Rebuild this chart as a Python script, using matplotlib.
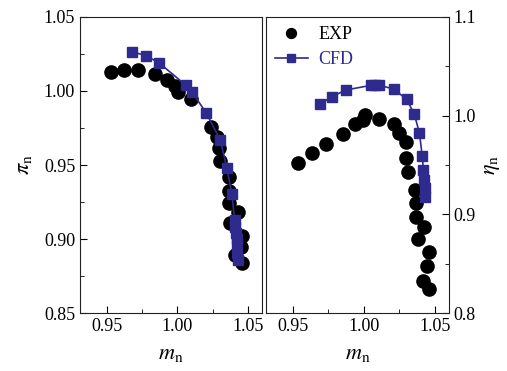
import matplotlib.pyplot as plt
from matplotlib.ticker import MultipleLocator

plt.rcParams['font.family'] = ['Liberation Serif', 'DejaVu Serif']
plt.rcParams['mathtext.fontset'] = 'stix'
plt.rcParams['font.size'] = 13

# pressure ratio panel
exp_m_pi = [0.9528, 0.9625, 0.9724, 0.9845, 0.9930, 0.9984, 1.0001, 1.0098, 1.0240, 1.0284,
            1.0294, 1.0303, 1.0365, 1.0367, 1.0367, 1.0433, 1.0372, 1.0460, 1.0450, 1.0405, 1.0455]
exp_pi = [1.0130, 1.0142, 1.0142, 1.0115, 1.0074, 1.0034, 0.9995, 0.9944, 0.9759, 0.9691,
          0.9613, 0.9527, 0.9420, 0.9324, 0.9245, 0.9180, 0.9110, 0.9020, 0.8948, 0.8892, 0.8836]
cfd_m_pi = [0.9677, 0.9777, 0.9869, 1.0058, 1.0105, 1.0204, 1.0304, 1.0351, 1.0387, 1.0405,
            1.0412, 1.0417, 1.0420, 1.0422, 1.0426, 1.0431]
cfd_pi = [1.0266, 1.0239, 1.0191, 1.0041, 0.9991, 0.9853, 0.9669, 0.9478, 0.9304, 0.9128,
          0.9080, 0.9038, 0.9000, 0.8970, 0.8903, 0.8858]

# efficiency panel
exp_m_eta = [0.9538, 0.9632, 0.9732, 0.9850, 0.9935, 0.9991, 1.0007, 1.0104, 1.0211, 1.0246,
             1.0296, 1.0294, 1.0310, 1.0362, 1.0364, 1.0369, 1.0427, 1.0383, 1.0458, 1.0444,
             1.0415, 1.0456]
exp_eta = [0.9518, 0.9625, 0.9710, 0.9811, 0.9913, 0.9956, 1.0007, 0.9967, 0.9916, 0.9822,
           0.9737, 0.9568, 0.9426, 0.9247, 0.9112, 0.8971, 0.8875, 0.8754, 0.8616, 0.8480,
           0.8328, 0.8244]
cfd_m_eta = [0.9690, 0.9775, 0.9873, 1.0052, 1.0080, 1.0106, 1.0209, 1.0301, 1.0355, 1.0392,
             1.0411, 1.0420, 1.0422, 1.0429, 1.0434]
cfd_eta = [1.0116, 1.0193, 1.0260, 1.0308, 1.0310, 1.0308, 1.0271, 1.0166, 1.0017, 0.9822,
           0.9592, 0.9450, 0.9349, 0.9264, 0.9179]

blue = '#2e2a8e'

fig = plt.figure(figsize=(5.07, 3.71), dpi=100)
ax1 = fig.add_axes([0.1578, 0.1563, 0.3590, 0.7979])
ax2 = fig.add_axes([0.5247, 0.1563, 0.3609, 0.7979])

ax1.plot(exp_m_pi, exp_pi, 'o', color='black', markersize=9.5, label='EXP')
ax1.plot(cfd_m_pi, cfd_pi, '-s', color=blue, markersize=7, linewidth=1.2, label='CFD')
ax2.plot(exp_m_eta, exp_eta, 'o', color='black', markersize=9.5, label='EXP')
ax2.plot(cfd_m_eta, cfd_eta, '-s', color=blue, markersize=7, linewidth=1.2, label='CFD')

for ax in (ax1, ax2):
    ax.set_xlim(0.931, 1.060)
    ax.xaxis.set_major_locator(MultipleLocator(0.05))
    ax.xaxis.set_minor_locator(MultipleLocator(0.025))
    ax.xaxis.set_major_formatter(plt.FormatStrFormatter('%.2f'))
    ax.set_xlabel(r'$m_{\mathrm{n}}$', labelpad=7, fontsize=16)
    ax.tick_params(which='both', direction='in', top=False)
    ax.tick_params(which='major', length=5)
    ax.tick_params(which='minor', length=3)
    for s in ax.spines.values():
        s.set_color('#222222')

ax1.set_ylim(0.85, 1.05)
ax1.yaxis.set_major_locator(MultipleLocator(0.05))
ax1.yaxis.set_minor_locator(MultipleLocator(0.025))
ax1.yaxis.set_major_formatter(plt.FormatStrFormatter('%.2f'))
ax1.tick_params(axis='y', which='both', left=True, right=False)
ax1.set_ylabel(r'$\pi_{\mathrm{n}}$', labelpad=7, fontsize=16)

ax2.set_ylim(0.8, 1.1)
ax2.yaxis.set_major_locator(MultipleLocator(0.1))
ax2.yaxis.set_minor_locator(MultipleLocator(0.05))
ax2.yaxis.set_major_formatter(plt.FormatStrFormatter('%.1f'))
ax2.yaxis.tick_right()
ax2.yaxis.set_label_position('right')
ax2.tick_params(axis='y', which='both', left=False, right=True)
ax2.set_ylabel(r'$\eta_{\mathrm{n}}$', labelpad=5, fontsize=16)

leg = ax2.legend(loc='upper left', frameon=False, handlelength=1.8, borderaxespad=0.1,
                 handletextpad=0.6, labelspacing=0.45, markerscale=0.75, fontsize=13)
leg.get_texts()[1].set_color(blue)

fig.savefig('out.png', dpi=100)
